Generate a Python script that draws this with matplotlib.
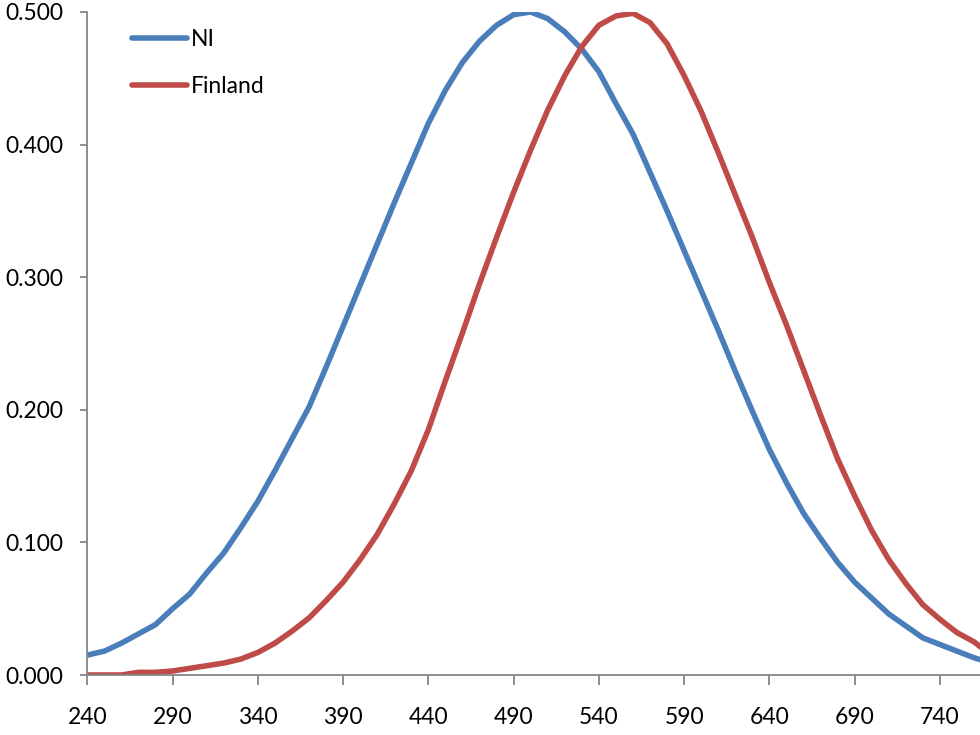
import numpy as np
import matplotlib
matplotlib.use("Agg")
import matplotlib.pyplot as plt
from matplotlib.ticker import FormatStrFormatter

plt.rcParams['font.family'] = ['Lato', 'DejaVu Sans']

# scores
x_scores = [240, 250, 260, 270, 280, 290, 300, 310, 320, 330,
            340, 350, 360, 370, 380, 390, 400, 410, 420, 430,
            440, 450, 460, 470, 480, 490, 500, 510, 520, 530,
            540, 550, 560, 570, 580, 590, 600, 610, 620, 630,
            640, 650, 660, 670, 680, 690, 700, 710, 720, 730,
            740, 750, 760, 765]

ni = [0.015, 0.018, 0.024, 0.031, 0.038, 0.050, 0.061, 0.077, 0.092, 0.111,
      0.131, 0.154, 0.178, 0.202, 0.232, 0.263, 0.294, 0.325, 0.356, 0.386,
      0.416, 0.441, 0.462, 0.478, 0.490, 0.498, 0.500, 0.495, 0.485, 0.472,
      0.455, 0.431, 0.408, 0.379, 0.350, 0.320, 0.290, 0.260, 0.229, 0.199,
      0.170, 0.145, 0.122, 0.103, 0.085, 0.070, 0.058, 0.046, 0.037, 0.028,
      0.023, 0.018, 0.013, 0.011]

finland = [0.000, 0.000, 0.000, 0.002, 0.002, 0.003, 0.005, 0.007, 0.009, 0.012,
           0.017, 0.024, 0.033, 0.043, 0.056, 0.070, 0.087, 0.106, 0.129, 0.154,
           0.185, 0.222, 0.258, 0.295, 0.330, 0.364, 0.396, 0.426, 0.452, 0.474,
           0.490, 0.497, 0.499, 0.492, 0.476, 0.452, 0.425, 0.394, 0.362, 0.330,
           0.296, 0.264, 0.230, 0.196, 0.163, 0.135, 0.109, 0.087, 0.069, 0.053,
           0.042, 0.032, 0.025, 0.020]

series_names = ['NI', 'Finland']
series_colors = ['#4A7EBB', '#BE4B48']

x_ticks = [240, 290, 340, 390, 440, 490, 540, 590, 640, 690, 740]
y_ticks = [0.0, 0.1, 0.2, 0.3, 0.4, 0.5]

fig = plt.figure(figsize=(9.8, 7.35), dpi=100)
ax = fig.add_axes([87.3 / 980, 60 / 735, 1 - 87.3 / 980, 663 / 735])

for vals, name, col in zip([ni, finland], series_names, series_colors):
    ax.plot(x_scores, vals, color=col, lw=4, label=name,
            solid_capstyle='round', solid_joinstyle='round')

ax.set_xlim(240, 763.5)
ax.set_ylim(0, 0.5)
ax.set_xticks(x_ticks)
ax.set_yticks(y_ticks)
ax.yaxis.set_major_formatter(FormatStrFormatter('%.3f'))

for s in ['top', 'right']:
    ax.spines[s].set_visible(False)
for s in ['left', 'bottom']:
    ax.spines[s].set_color('#868686')
    ax.spines[s].set_linewidth(1.3)

ax.tick_params(axis='y', length=5, width=1.3, color='#868686', pad=12,
               labelsize=16.5)
ax.tick_params(axis='x', length=7, width=1.3, color='#868686', pad=16,
               labelsize=16.5)

leg = ax.legend(loc='upper left', bbox_to_anchor=(0.031, 1.0), frameon=False,
                fontsize=16.5, handlelength=2.4, handletextpad=0.15,
                labelspacing=1.12, borderaxespad=0.35)

fig.savefig('out.png', dpi=100)
